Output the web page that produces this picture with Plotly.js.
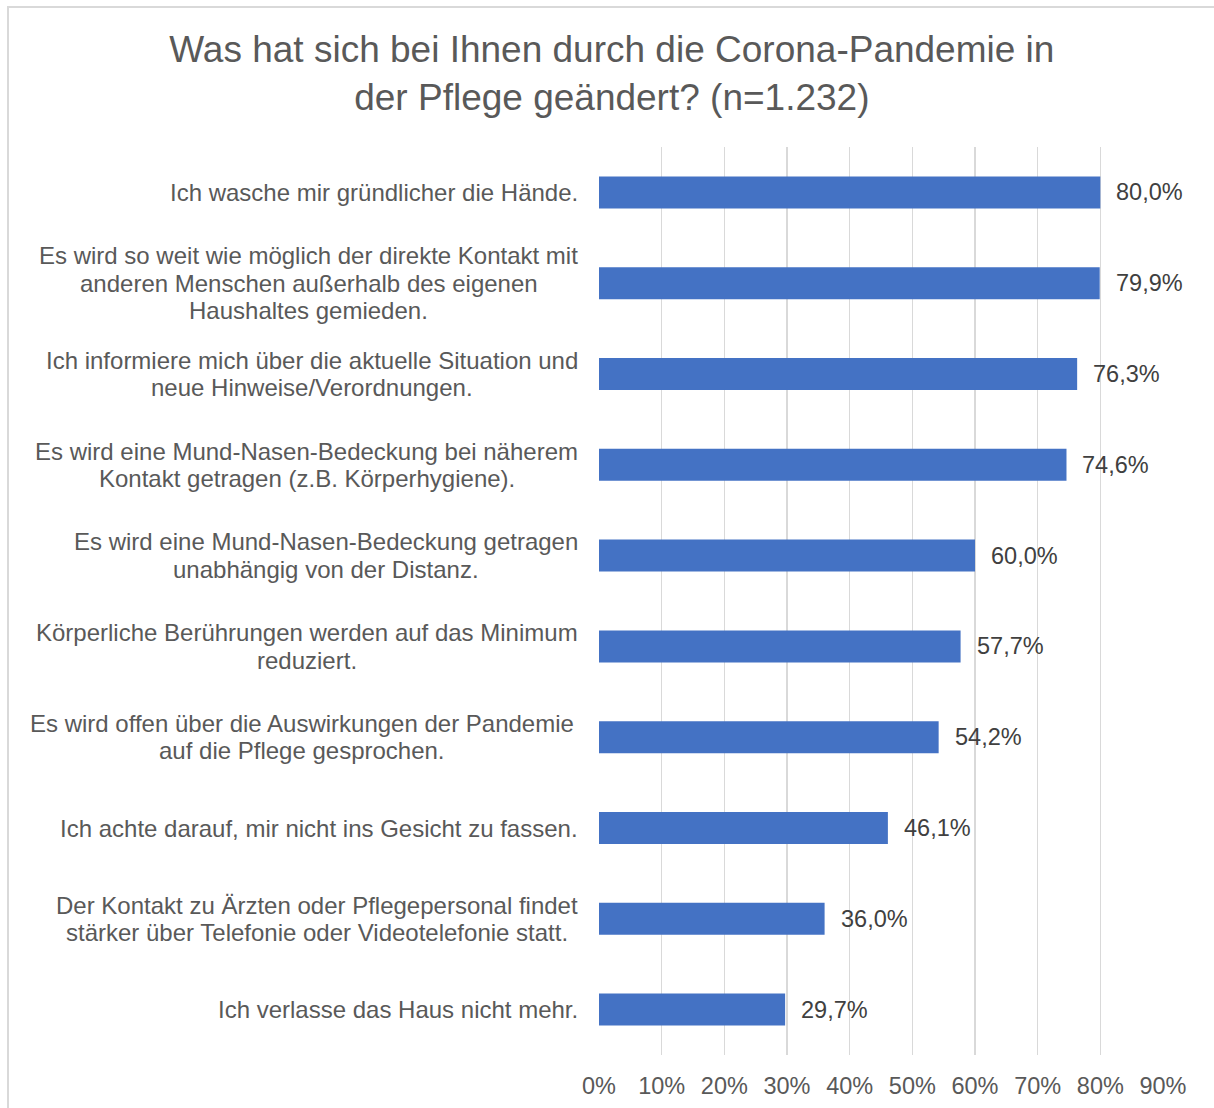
<!DOCTYPE html>
<html>
<head>
<meta charset="utf-8">
<script src="https://cdn.plot.ly/plotly-3.0.1.min.js"></script>
<style>
html,body{margin:0;padding:0;background:#fff;overflow:hidden;width:1214px;height:1108px;}
#frame{position:absolute;left:7px;top:6px;width:1300px;height:1200px;border-left:2px solid #d9d9d9;border-top:2px solid #d9d9d9;}
#chart{position:absolute;left:0;top:0;width:1214px;height:1108px;}
</style>
</head>
<body>
<div id="frame"></div>
<div id="chart"></div>
<script>
const categories = [
  "Ich wasche mir gründlicher die Hände.",
  "Es wird so weit wie möglich der direkte Kontakt mit<br>anderen Menschen außerhalb des eigenen<br>Haushaltes gemieden.",
  "Ich informiere mich über die aktuelle Situation und<br>neue Hinweise/Verordnungen.",
  "Es wird eine Mund-Nasen-Bedeckung bei näherem<br>Kontakt getragen (z.B. Körperhygiene).",
  "Es wird eine Mund-Nasen-Bedeckung getragen<br>unabhängig von der Distanz.",
  "Körperliche Berührungen werden auf das Minimum<br>reduziert.",
  "Es wird offen über die Auswirkungen der Pandemie <br>auf die Pflege gesprochen.",
  "Ich achte darauf, mir nicht ins Gesicht zu fassen.",
  "Der Kontakt zu Ärzten oder Pflegepersonal findet<br>stärker über Telefonie oder Videotelefonie statt.",
  "Ich verlasse das Haus nicht mehr."
];
const values = [80.0, 79.9, 76.3, 74.6, 60.0, 57.7, 54.2, 46.1, 36.0, 29.7];
const tickValues = [0, 10, 20, 30, 40, 50, 60, 70, 80, 90];
const tickLabels = ["0%", "10%", "20%", "30%", "40%", "50%", "60%", "70%", "80%", "90%"];
const titleText = "Was hat sich bei Ihnen durch die Corona-Pandemie in<br>der Pflege geändert? (n=1.232)";

const FONT = "Arial, 'Liberation Sans', sans-serif";
const LABEL_SIZE = 24;
const VALUE_SIZE = 23.5;
const LINE_H = 27.5;

const ctx = document.createElement("canvas").getContext("2d");
ctx.font = LABEL_SIZE + "px Arial, 'Liberation Sans', sans-serif";

const trace = {
  type: "bar",
  orientation: "h",
  x: values,
  y: categories,
  width: 0.352,
  marker: {color: "#4472C4", line: {width: 0}},
  hoverinfo: "skip"
};

const annotations = [];
categories.forEach((c, i) => {
  const lines = c.split("<br>");
  const maxW = Math.max(...lines.map(l => ctx.measureText(l).width));
  lines.forEach((ln, k) => {
    annotations.push({
      xref: "paper", yref: "y", x: 0, y: c,
      xanchor: "center", yanchor: "middle", align: "center",
      xshift: -21 - maxW / 2,
      yshift: ((lines.length - 1) / 2 - k) * LINE_H,
      text: ln.trim(), showarrow: false,
      font: {family: FONT, size: LABEL_SIZE, color: "#595959"}
    });
  });
  annotations.push({
    xref: "x", yref: "y", x: values[i], y: c,
    xanchor: "left", yanchor: "middle",
    xshift: 14,
    text: values[i].toFixed(1).replace(".", ",") + "%",
    showarrow: false,
    font: {family: FONT, size: VALUE_SIZE, color: "#404040"}
  });
});

const layout = {
  width: 1214, height: 1108,
  paper_bgcolor: "rgba(0,0,0,0)",
  plot_bgcolor: "rgba(0,0,0,0)",
  margin: {l: 598.5, r: 51, t: 147, b: 53, pad: 0},
  showlegend: false,
  title: {
    text: titleText,
    x: 0.504, xanchor: "center",
    y: 1 - 62/1108, yanchor: "top", yref: "container",
    font: {family: FONT, size: 37, color: "#595959"}
  },
  xaxis: {
    range: [0, 90],
    tickvals: tickValues,
    ticktext: tickLabels,
    showgrid: true, gridcolor: "#d9d9d9", gridwidth: 1.5,
    zeroline: false, showline: false, ticks: "",
    ticklabelstandoff: 14,
    tickfont: {family: FONT, size: VALUE_SIZE, color: "#595959"},
    fixedrange: true
  },
  yaxis: {
    type: "category",
    autorange: "reversed",
    showticklabels: false,
    showgrid: false, zeroline: false, showline: false, ticks: "",
    fixedrange: true
  },
  annotations: annotations
};

Plotly.newPlot("chart", [trace], layout, {staticPlot: true, displayModeBar: false});
</script>
</body>
</html>
